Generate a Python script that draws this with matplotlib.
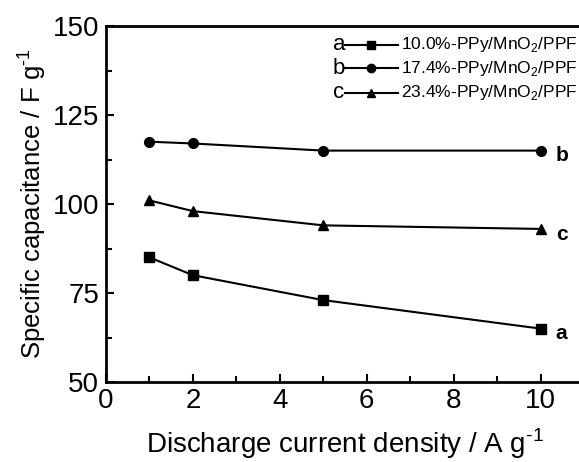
import matplotlib
matplotlib.use('Agg')
import matplotlib.pyplot as plt
from matplotlib.ticker import MultipleLocator

plt.rcParams['font.family'] = 'Liberation Sans'
plt.rcParams['mathtext.fontset'] = 'custom'
plt.rcParams['mathtext.rm'] = 'Liberation Sans'

# data
current = [1, 2, 5, 10]
cap_a = [85, 80, 73, 65]
cap_b = [117.5, 117, 115, 115]
cap_c = [101, 98, 94, 93]
letters = ['a', 'b', 'c']
names = ['10.0%-PPy/MnO$_\\mathregular{2}$/PPF',
         '17.4%-PPy/MnO$_\\mathregular{2}$/PPF',
         '23.4%-PPy/MnO$_\\mathregular{2}$/PPF']
markers = ['s', 'o', '^']

fig = plt.figure(figsize=(5.79, 4.62), dpi=100)
# right edge of the axes runs off the image, as in the source
ax = fig.add_axes([106/579, 80/462, (584-106)/579, (382-26)/462])

series = [cap_a, cap_b, cap_c]
for ys, m in zip(series, markers):
    ax.plot(current, ys, color='black', lw=1.5, marker=m, markersize=7)

# end labels a / b / c
for ys, lt in zip(series, letters):
    ax.text(10.35, ys[-1] - 3.0, lt, fontsize=15, fontweight='bold',
            ha='left', va='baseline')

# legend drawn by hand: letter, line with marker, name
leg_y = [0.947, 0.882, 0.813]
for ly, lt, nm, m in zip(leg_y, letters, names, markers):
    ax.text(0.474, ly, lt, transform=ax.transAxes, fontsize=16,
            ha='left', va='center')
    ax.plot([0.500, 0.610], [ly, ly], transform=ax.transAxes, color='black',
            lw=1.5, clip_on=False)
    ax.plot([0.555], [ly], transform=ax.transAxes, color='black',
            marker=m, markersize=6, clip_on=False)
    ax.text(0.618, ly, nm, transform=ax.transAxes, fontsize=12.5,
            ha='left', va='center')

ax.set_xlim(0, 11)
ax.set_ylim(50, 150)
ax.xaxis.set_major_locator(MultipleLocator(2))
ax.xaxis.set_minor_locator(MultipleLocator(1))
ax.yaxis.set_major_locator(MultipleLocator(25))
ax.yaxis.set_minor_locator(MultipleLocator(12.5))
ax.tick_params(which='both', direction='in', top=False, right=False,
               labelsize=20, width=1.5)
ax.tick_params(which='major', length=6)
ax.tick_params(which='minor', length=4)
ax.tick_params(axis='x', pad=4)
ax.tick_params(axis='y', pad=5)
for s in ax.spines.values():
    s.set_linewidth(2)

ax.set_xlabel('Discharge current density / A g$^{\\text{-1}}$',
              fontsize=20, labelpad=9)
ax.set_ylabel('Specific capacitance / F g$^{\\text{-1}}$',
              fontsize=18.5, labelpad=3)

fig.savefig('out.png', dpi=100)
